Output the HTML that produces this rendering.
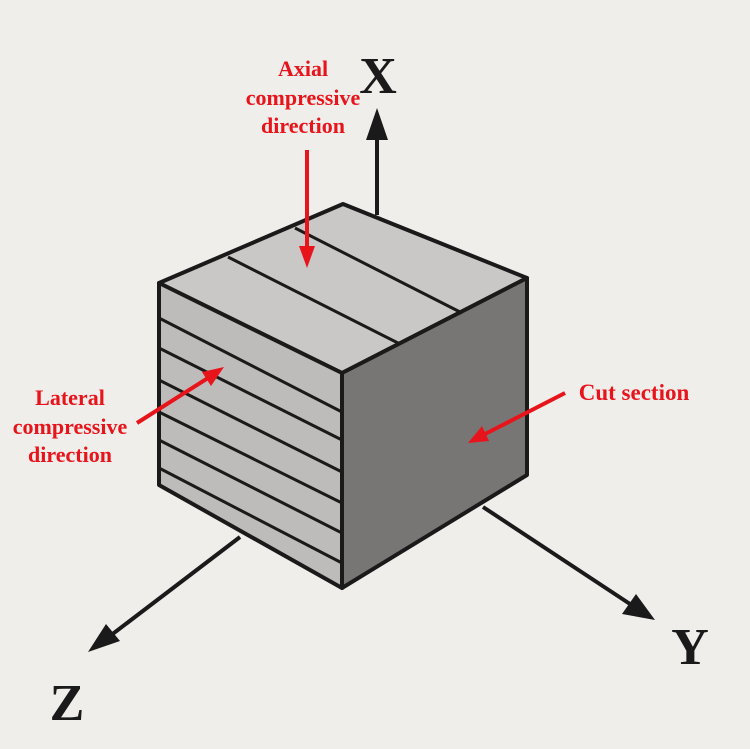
<!DOCTYPE html>
<html><head><style>
html,body{margin:0;padding:0;background:#efeeeb;}
svg{display:block;}
.r{font-family:"Liberation Serif",serif;font-weight:bold;fill:#e8141b;font-size:22px;}
.b{font-family:"Liberation Serif",serif;font-weight:bold;fill:#1a1a1a;font-size:52px;}
</style></head><body>
<svg width="750" height="749" viewBox="0 0 750 749" xmlns="http://www.w3.org/2000/svg">
<rect width="750" height="749" fill="#efeeeb"/>
<g stroke="#1a1a1a" stroke-width="4" fill="#1a1a1a">
<line x1="377" y1="215" x2="377" y2="135"/>
<polygon points="377,108 366,140 388,140" stroke="none"/>
<line x1="240" y1="537" x2="110" y2="636"/>
<polygon points="88,652 106,624 120,641" stroke="none"/>
<line x1="483" y1="507" x2="630" y2="604"/>
<polygon points="655,620 622,614 636,594" stroke="none"/>
</g>
<g stroke="#1a1a1a" stroke-width="4" stroke-linejoin="round">
<polygon points="159,283 343,204 527,278 342,373" fill="#c9c8c6"/>
<polygon points="159,283 342,373 342,588 159,485" fill="#bdbcba"/>
<polygon points="342,373 527,278 527,475 342,588" fill="#777675"/>
<line x1="228" y1="257" x2="400" y2="344" stroke-width="3"/>
<line x1="295" y1="228" x2="462" y2="313" stroke-width="3"/>
<g stroke-width="3">
<line x1="159" y1="318" x2="342" y2="412"/>
<line x1="159" y1="348" x2="342" y2="440"/>
<line x1="159" y1="380" x2="342" y2="472"/>
<line x1="159" y1="412" x2="342" y2="503"/>
<line x1="159" y1="440" x2="342" y2="533"/>
<line x1="159" y1="468" x2="342" y2="563"/>
</g>
</g>
<g stroke="#e8141b" stroke-width="4" fill="#e8141b">
<line x1="307" y1="150" x2="307" y2="248"/>
<polygon points="307,268 299,246 315,246" stroke="none"/>
<line x1="137" y1="423" x2="208" y2="378"/>
<polygon points="224,367 211,386 202,372" stroke="none"/>
<line x1="565" y1="393" x2="485" y2="434"/>
<polygon points="468,443 482,426 489,441" stroke="none"/>
</g>
<text class="r" x="303" y="76" text-anchor="middle">Axial</text>
<text class="r" x="303" y="105" text-anchor="middle">compressive</text>
<text class="r" x="303" y="133" text-anchor="middle">direction</text>
<text class="r" x="70" y="405" text-anchor="middle">Lateral</text>
<text class="r" x="70" y="434" text-anchor="middle">compressive</text>
<text class="r" x="70" y="462" text-anchor="middle">direction</text>
<text class="r" x="634" y="400" text-anchor="middle" style="font-size:23px">Cut section</text>
<text class="b" x="378" y="93" text-anchor="middle">X</text>
<text class="b" x="67" y="720" text-anchor="middle">Z</text>
<text class="b" x="690" y="664" text-anchor="middle">Y</text>
</svg>
</body></html>
